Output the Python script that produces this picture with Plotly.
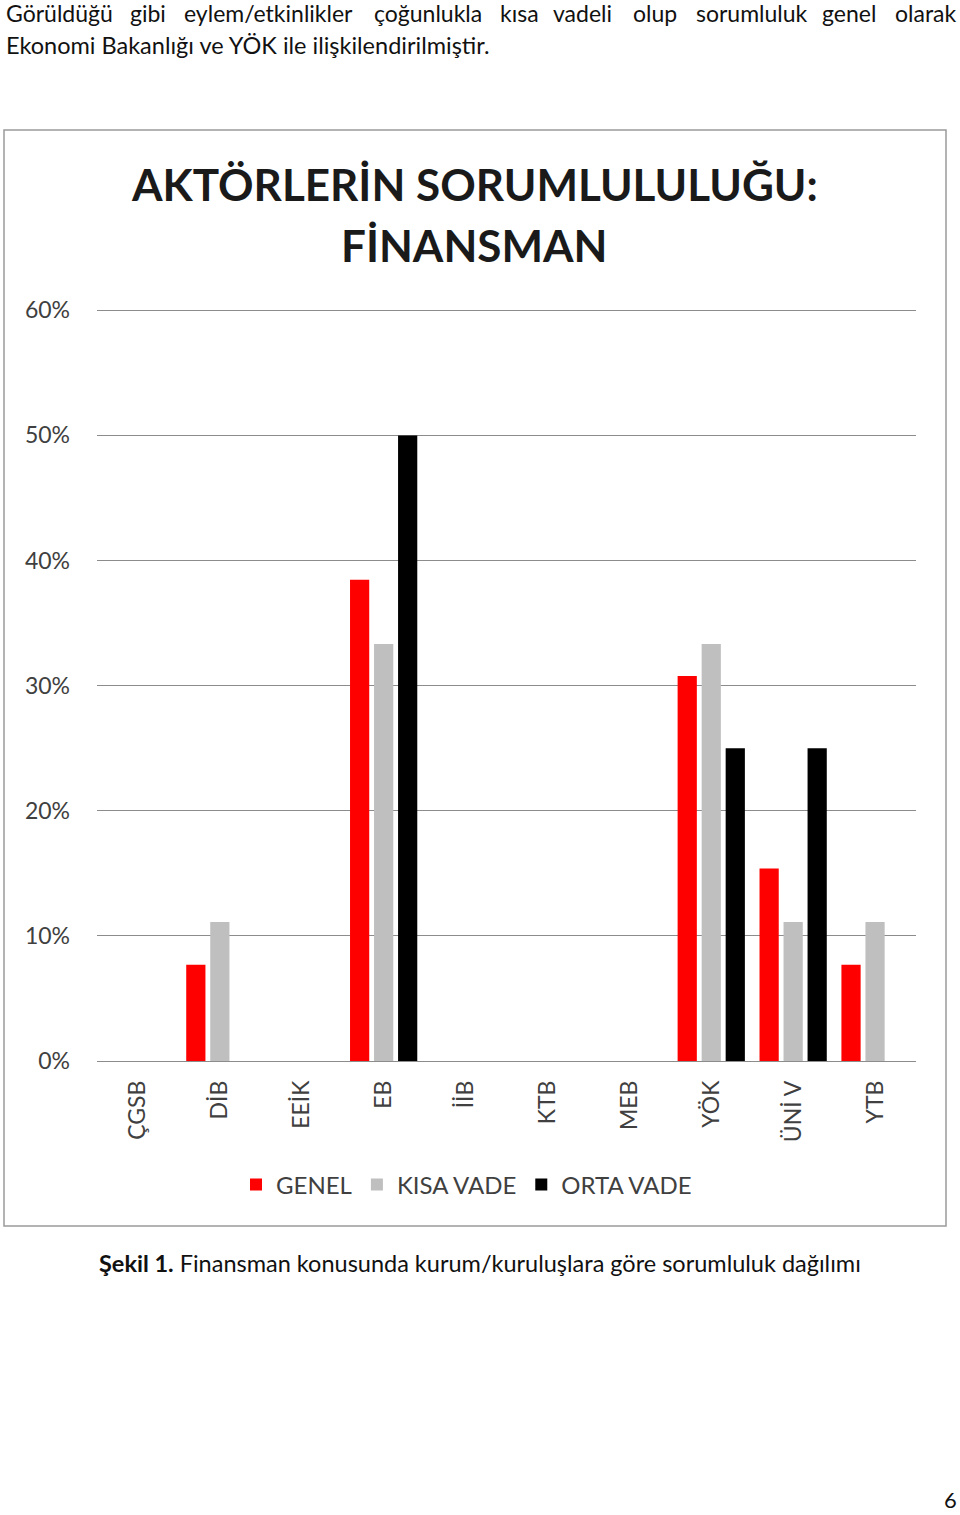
import plotly.graph_objects as go

categories = ["ÇGSB", "DİB", "EEİK", "EB", "İİB", "KTB", "MEB", "YÖK", "ÜNİ V", "YTB"]
genel = [0, 7.69, 0, 38.46, 0, 0, 0, 30.77, 15.38, 7.69]
kisa_vade = [0, 11.11, 0, 33.33, 0, 0, 0, 33.33, 11.11, 11.11]
orta_vade = [0, 0, 0, 50.0, 0, 0, 0, 25.0, 25.0, 0]
series_names = ["GENEL", "KISA VADE", "ORTA VADE"]
series_colors = ["#ff0000", "#bfbfbf", "#000000"]
tick_vals = [0, 10, 20, 30, 40, 50, 60]
tick_text = ["0%", "10%", "20%", "30%", "40%", "50%", "60%"]

W, H = 960, 1515
L, R, T, B = 97, 916, 309, 1061

def px(x):
    return (x - L) / (R - L)

def py(y):
    return (B - y) / (B - T)

fig = go.Figure()
for name, vals, col in zip(series_names, [genel, kisa_vade, orta_vade], series_colors):
    fig.add_trace(go.Bar(x=categories, y=vals, name=name, marker=dict(color=col, line=dict(width=0))))

FONT = "Lato"
fig.update_layout(
    width=W, height=H,
    margin=dict(l=L, r=W - R, t=T, b=H - B),
    paper_bgcolor="white", plot_bgcolor="white",
    barmode="group", bargap=0.12, bargroupgap=0.2,
    font=dict(family=FONT, color="#404040"),
    showlegend=True,
    legend=dict(orientation="h", x=px(236), y=py(1185), xanchor="left", yanchor="middle",
                font=dict(size=24, color="#404040", family=FONT), itemwidth=30,
                traceorder="normal", bgcolor="rgba(0,0,0,0)"),
    xaxis=dict(tickangle=-90, tickfont=dict(size=23, color="#404040", family=FONT),
               showgrid=False, showline=False, ticks="", ticklen=0, ticklabelstandoff=14),
    yaxis=dict(range=[0, 60.1], tickvals=tick_vals, ticktext=tick_text,
               tickfont=dict(size=23, color="#404040", family=FONT),
               showgrid=True, gridcolor="#8c8c8c", gridwidth=1,
               zeroline=True, zerolinecolor="#8c8c8c", zerolinewidth=1,
               ticks="", ticklabelstandoff=26, showline=False),
)

# chart frame
fig.add_shape(type="rect", xref="paper", yref="paper",
              x0=px(4), x1=px(946), y0=py(1226), y1=py(130),
              line=dict(color="#9a9a9a", width=1.5), fillcolor="rgba(0,0,0,0)", layer="below")

# chart title
fig.add_annotation(xref="paper", yref="paper", x=px(474), y=py(184), xanchor="center", yanchor="middle",
                   text="<b>AKTÖRLERİN SORUMLULULUĞU:</b>", showarrow=False,
                   font=dict(size=44, color="#1a1a1a", family=FONT))
fig.add_annotation(xref="paper", yref="paper", x=px(474), y=py(245), xanchor="center", yanchor="middle",
                   text="<b>FİNANSMAN</b>", showarrow=False,
                   font=dict(size=44, color="#1a1a1a", family=FONT))

# paragraph text above chart (justified first line)
words1 = [("Görüldüğü", 4), ("gibi", 128), ("eylem/etkinlikler", 182), ("çoğunlukla", 372),
          ("kısa", 498), ("vadeli", 551), ("olup", 631), ("sorumluluk", 694), ("genel", 820), ("olarak", 893)]
for w, x in words1:
    fig.add_annotation(xref="paper", yref="paper", x=px(x), y=py(13), xanchor="left", yanchor="middle",
                       text=w, showarrow=False, font=dict(size=23, color="#111111", family=FONT))
fig.add_annotation(xref="paper", yref="paper", x=px(4), y=py(45), xanchor="left", yanchor="middle",
                   text="Ekonomi Bakanlığı ve YÖK ile ilişkilendirilmiştir.", showarrow=False,
                   font=dict(size=23.5, color="#111111", family=FONT))

# caption
fig.add_annotation(xref="paper", yref="paper", x=px(97), y=py(1263), xanchor="left", yanchor="middle",
                   text="<b>Şekil 1.</b> Finansman konusunda kurum/kuruluşlara göre sorumluluk dağılımı",
                   showarrow=False, font=dict(size=23.5, color="#111111", family=FONT))

# page number
fig.add_annotation(xref="paper", yref="paper", x=px(958), y=py(1514), xanchor="right", yanchor="bottom",
                   text="6", showarrow=False, borderpad=0,
                   font=dict(size=22, color="#111111", family=FONT))

fig.write_html("out.html")
